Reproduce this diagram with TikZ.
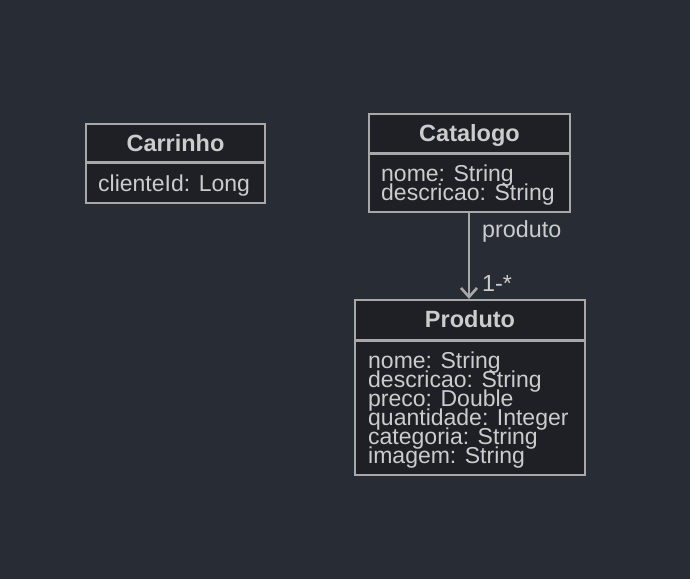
\documentclass[tikz,border=0pt]{standalone}
\usepackage{fontspec}
\setmainfont{Liberation Sans}
\usetikzlibrary{arrows.meta, positioning}
\definecolor{BgDark}{HTML}{282C34}
\definecolor{BoxFill}{HTML}{1F2026}
\definecolor{LineGray}{HTML}{A8A8A8}
\definecolor{TextGray}{HTML}{CCCCCC}
\newcommand\attrfont{\fontsize{23}{19}\selectfont\lineskiplimit -100pt\relax}

\begin{document}
\begin{tikzpicture}[x=1pt, y=-1pt,
    classbox/.style={draw=LineGray, fill=BoxFill, line width=2.2pt, inner sep=0pt},
    divider/.style={draw=LineGray, line width=2.2pt},
    title/.style={anchor=base, inner sep=0pt, text=TextGray, font=\fontsize{23.5}{19}\selectfont\bfseries},
    attrs/.style={anchor=base west, inner sep=0pt, text=TextGray, align=left, font=\attrfont},
    lbl/.style={anchor=base west, inner sep=0pt, text=TextGray, font=\fontsize{23.3}{19}\selectfont}]
    % Background
    \fill[BgDark] (0,0) rectangle (690,579);
    \useasboundingbox (0,0) rectangle (690,579);

    % Carrinho
    \node[classbox, minimum width=179pt, minimum height=79pt] (carrinho) at (175.5,163.5) {};
    \draw[divider] (86,162.5) -- (265,162.5);
    \node[title] (carrinhoT) at (175.5,151) {Carrinho};
    \node[attrs] (carrinhoA) at (98,191) {clienteId: Long};

    % Catalogo (base = last line)
    \node[classbox, minimum width=201pt, minimum height=98pt] (catalogo) at (469.5,163) {};
    \draw[divider] (369,153.5) -- (570,153.5);
    \node[title] (catalogoT) at (469.5,141) {Catalogo};
    \node[attrs] (catalogoA) at (381,200) {nome: String\\descricao: String};

    % Produto
    \node[classbox, minimum width=230pt, minimum height=175pt] (produto) at (470,387.5) {};
    \draw[divider] (355,340.5) -- (585,340.5);
    \node[title] (produtoT) at (470,327.5) {Produto};
    \node[attrs] (produtoA) at (368,463) {nome: String\\descricao: String\\preco: Double\\quantidade: Integer\\categoria: String\\imagem: String};

    % Association
    \draw[LineGray, line width=2.6pt, -{Straight Barb[length=9pt, width=16pt, line width=2.6pt]}]
        (catalogo.south -| 469,0) -- (produto.north -| 469,0);
    \node[lbl] (rolename) at (482,237) {produto};
    \node[lbl] (mult) at (482,291) {1-*};
\end{tikzpicture}
\end{document}
